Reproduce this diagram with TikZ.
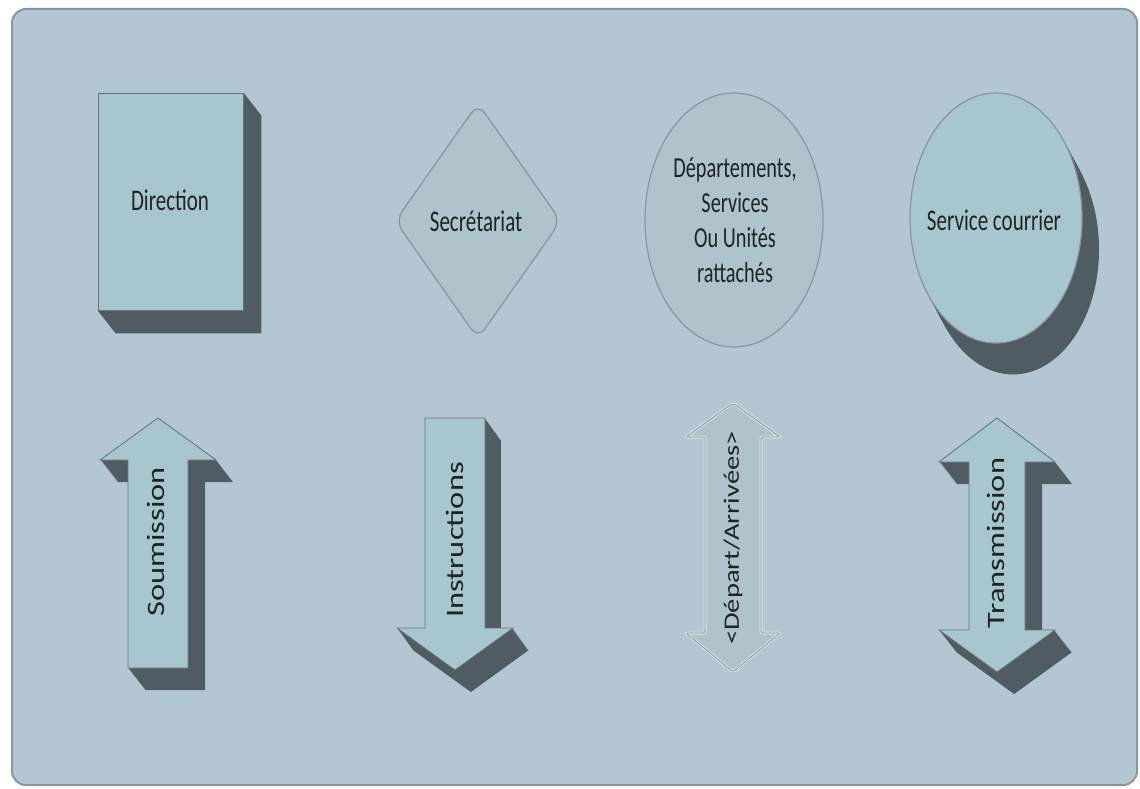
\documentclass[tikz,border=0pt]{standalone}
\usepackage{fontspec}
\newfontfamily\labelfont[FakeStretch=0.7]{Carlito}
\newfontfamily\arrowfont[FakeStretch=1.3]{Carlito}
\usetikzlibrary{shapes.geometric}

\definecolor{panelbg}{RGB}{179,199,210}
\definecolor{panelline}{RGB}{135,150,160}
\definecolor{facefill}{RGB}{168,198,206}
\definecolor{greyfill}{RGB}{174,195,203}
\definecolor{depthcol}{RGB}{80,92,100}
\definecolor{edgecol}{RGB}{100,115,124}
\definecolor{inkcol}{RGB}{30,35,40}

% outlines of the block arrows (front faces)
\newcommand\soumpath{(158,418) -- (216,460) -- (188,460) -- (188,668) -- (128,668) -- (128,460) -- (100,460) -- cycle}
\newcommand\instrpath{(425,418) -- (485,418) -- (485,628) -- (513,628) -- (455,670) -- (397,628) -- (425,628) -- cycle}
\newcommand\departpath{(733,403) -- (780,437) -- (761,437) -- (761,633) -- (780,633) -- (733,672) -- (686,633) -- (705,633) -- (705,437) -- (686,437) -- cycle}
\newcommand\transpath{(997,418) -- (1055,462) -- (1025,462) -- (1025,630) -- (1055,630) -- (997,672) -- (939,630) -- (969,630) -- (969,462) -- (939,462) -- cycle}

\begin{document}
\begin{tikzpicture}[x=1pt,y=-1pt,
  shapetext/.style={font=\labelfont\fontsize{30}{35}\selectfont, text=inkcol, align=center},
  arrowtext/.style={font=\arrowfont\fontsize{25}{28}\selectfont, text=inkcol, rotate=90},
  face/.style={fill=facefill, draw=edgecol, line width=0.8pt},
  depth/.style={fill=depthcol}]
\useasboundingbox (0,0) rectangle (1140,789);
\fill[white] (0,0) rectangle (1140,789);

% background panel
\draw[fill=panelbg, draw=panelline, line width=2pt, rounded corners=14pt] (12,9) rectangle (1137,785);

% --- Direction: block with depth ---
\node[face, minimum width=145pt, minimum height=217pt, inner sep=0pt] (dir) at (170.5,201.5) {};
\fill[depth] (dir.north east) -- ([shift={(18,23)}]dir.north east) -- ([shift={(18,23)}]dir.south east)
   -- ([shift={(18,23)}]dir.south west) -- (dir.south west) -- (dir.south east) -- cycle;
\node[face, minimum width=145pt, minimum height=217pt, inner sep=0pt] (dirfront) at (dir.center) {};
\node[shapetext] (dirlabel) at (170,200) {Direction};

% --- Secretariat: rounded diamond ---
\node[diamond, fill=greyfill, draw=panelline, line width=1.2pt, rounded corners=12pt,
      minimum width=166pt, minimum height=236pt, inner sep=0pt] (sec) at (478,221) {};
\node[shapetext] (seclabel) at (476,221) {Secrétariat};

% --- Departements: ellipse ---
\node[ellipse, fill=greyfill, draw=panelline, line width=1.2pt,
      minimum width=178pt, minimum height=254pt, inner sep=0pt] (dep) at (734,220) {};
\node[shapetext, font=\labelfont\fontsize{29}{35}\selectfont] (deplabel) at (735,220)
  {Départements,\\Services\\Ou Unités\\rattachés};

% --- Service courrier: ellipse with depth ---
\foreach \k in {1,...,17}
  \fill[depth] ([shift={(\k,1.85*\k)}]996,218) ellipse [x radius=86, y radius=125];
\node[ellipse, fill=facefill, draw=panelline, line width=1.2pt,
      minimum width=172pt, minimum height=250pt, inner sep=0pt] (svc) at (996,218) {};
\node[shapetext] (svclabel) at (994,220) {Service courrier};

% --- block arrows ---
\foreach \k in {1,...,22} \fill[depth, shift={(0.78*\k,\k)}] \soumpath;
\filldraw[face] \soumpath;
\node[arrowtext] (soum) at (156,542) {Soumission};

\foreach \k in {1,...,22} \fill[depth, shift={(0.72*\k,\k)}] \instrpath;
\filldraw[face] \instrpath;
\node[arrowtext] (instr) at (455,540) {Instructions};

\draw[fill=greyfill, draw=white!45!panelbg, line width=3pt, rounded corners=2pt] \departpath;
\draw[draw=panelline, line width=0.8pt, rounded corners=2pt] \departpath;
\node[arrowtext, font=\arrowfont\fontsize{22}{25}\selectfont] (depart) at (733,538) {<Départ/Arrivées>};

\foreach \k in {1,...,22} \fill[depth, shift={(0.78*\k,\k)}] \transpath;
\filldraw[face] \transpath;
\node[arrowtext] (trans) at (996,543) {Transmission};
\end{tikzpicture}
\end{document}
